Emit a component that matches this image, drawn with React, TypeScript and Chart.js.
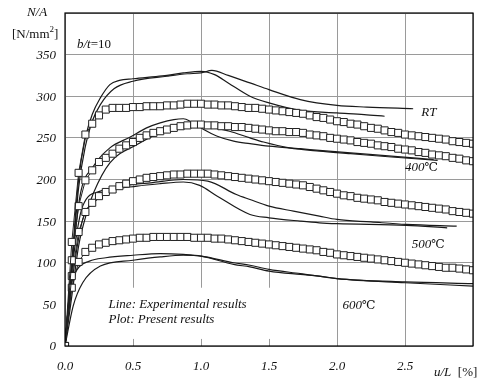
import React, { useEffect, useRef } from "react";
import { Chart, registerables } from "chart.js";

Chart.register(...registerables);

// ---------- data ----------
const xTicks = [0, 0.5, 1.0, 1.5, 2.0, 2.5, 3.0];
const yTicks = [0, 50, 100, 150, 200, 250, 300, 350];

const plotX = [
  0, 0.05, 0.1, 0.15, 0.2, 0.25, 0.3, 0.35, 0.4, 0.45,
  0.5, 0.55, 0.6, 0.65, 0.7, 0.75, 0.8, 0.85, 0.9, 0.95,
  1.0, 1.05, 1.1, 1.15, 1.2, 1.25, 1.3, 1.35, 1.4, 1.45,
  1.5, 1.55, 1.6, 1.65, 1.7, 1.75, 1.8, 1.85, 1.9, 1.95,
  2.0, 2.05, 2.1, 2.15, 2.2, 2.25, 2.3, 2.35, 2.4, 2.45,
  2.5, 2.55, 2.6, 2.65, 2.7, 2.75, 2.8, 2.85, 2.9, 2.95,
  3.0,
];
const plotRT = [
  0, 125, 208, 254, 267, 277, 284, 286, 286, 286,
  287, 287, 288, 288, 288, 289, 289, 290, 291, 291,
  291, 290, 290, 289, 289, 288, 287, 286, 286, 285,
  284, 283, 282, 281, 280, 279, 277, 275, 274, 272,
  270, 269, 267, 266, 264, 262, 261, 259, 257, 256,
  254, 253, 252, 251, 250, 249, 248, 246, 245, 244,
  243,
];
const plot400 = [
  0, 103, 168, 199, 211, 221, 226, 231, 237, 241,
  245, 250, 253, 256, 258, 260, 262, 264, 265, 266,
  266, 265, 265, 264, 264, 263, 263, 262, 261, 260,
  259, 258, 258, 257, 257, 256, 254, 253, 252, 250,
  249, 248, 247, 245, 244, 243, 241, 240, 239, 237,
  236, 235, 233, 232, 230, 229, 228, 226, 225, 223,
  222,
];
const plot500 = [
  0, 84, 137, 161, 172, 180, 185, 188, 192, 195,
  198, 200, 202, 203, 204, 205, 206, 206, 207, 207,
  207, 207, 206, 205, 204, 203, 202, 201, 200, 199,
  198, 197, 196, 195, 194, 193, 191, 189, 187, 185,
  183, 181, 180, 178, 177, 176, 175, 173, 172, 171,
  170, 169, 168, 167, 166, 165, 164, 162, 161, 160,
  159,
];
const plot600 = [
  0, 70, 101, 113, 118, 122, 124, 126, 127, 128,
  129, 130, 130, 131, 131, 131, 131, 131, 131, 130,
  130, 130, 129, 129, 128, 127, 126, 125, 124, 123,
  122, 121, 120, 119, 118, 117, 116, 115, 113, 112,
  110, 109, 108, 107, 106, 105, 104, 103, 102, 101,
  100, 99, 98, 97, 96, 95, 94, 94, 93, 92,
  91,
];

// experimental curves: [u/L, N/A]
const expRT1: [number, number][] = [
  [0, 0], [0.05, 100], [0.1, 200], [0.15, 250], [0.2, 278], [0.26, 298], [0.33, 314],
  [0.4, 319], [0.5, 321], [0.62, 323], [0.75, 325], [0.87, 328], [1.0, 330], [1.1, 326],
  [1.2, 316], [1.36, 300], [1.5, 292], [1.73, 283], [2.0, 280], [2.2, 278], [2.35, 276],
];
const expRT2: [number, number][] = [
  [0, 0], [0.05, 95], [0.1, 190], [0.15, 240], [0.2, 270], [0.26, 290], [0.36, 309],
  [0.5, 318], [0.75, 324], [0.9, 327], [1.0, 328], [1.08, 331], [1.2, 325], [1.36, 316],
  [1.5, 308], [1.73, 296], [2.0, 289], [2.22, 287], [2.56, 285],
];
const exp4001: [number, number][] = [
  [0, 0], [0.05, 95], [0.11, 180], [0.21, 216], [0.33, 238], [0.48, 251], [0.6, 262],
  [0.7, 268], [0.8, 272], [0.87, 273], [0.93, 269], [1.02, 260], [1.12, 252], [1.24, 246],
  [1.36, 243], [1.5, 240], [1.73, 237], [1.87, 235], [2.1, 232], [2.4, 228], [2.71, 224],
];
const exp4002: [number, number][] = [
  [0, 0], [0.05, 60], [0.1, 120], [0.16, 160], [0.21, 184], [0.33, 220], [0.53, 242],
  [0.7, 256], [0.85, 262], [1.0, 265], [1.1, 262], [1.21, 258], [1.36, 250], [1.46, 245],
  [1.65, 238], [1.87, 234], [2.1, 231], [2.4, 227], [2.74, 223],
];
const exp5001: [number, number][] = [
  [0, 0], [0.05, 90], [0.13, 168], [0.26, 186], [0.4, 191], [0.5, 194], [0.63, 196],
  [0.87, 200], [1.05, 198], [1.26, 182], [1.36, 176], [1.5, 168], [1.68, 162], [1.87, 156],
  [2.0, 152], [2.25, 149], [2.51, 146], [2.88, 144],
];
const exp5002: [number, number][] = [
  [0, 0], [0.05, 75], [0.13, 152], [0.21, 172], [0.33, 186], [0.53, 192], [0.7, 195],
  [0.87, 197], [0.99, 193], [1.12, 180], [1.36, 158], [1.5, 154], [1.73, 150], [1.87, 148],
  [2.0, 147], [2.51, 145], [2.81, 142],
];
const exp6001: [number, number][] = [
  [0, 0], [0.04, 70], [0.09, 92], [0.18, 102], [0.3, 106], [0.5, 109], [0.7, 111],
  [0.87, 110], [1.0, 108], [1.24, 98], [1.36, 95], [1.5, 90], [1.73, 86], [1.87, 84],
  [2.0, 81], [2.5, 76], [3.0, 72],
];
const exp6002: [number, number][] = [
  [0, 0], [0.06, 48], [0.13, 76], [0.26, 96], [0.5, 103], [0.7, 107], [0.87, 109],
  [1.0, 108], [1.24, 100], [1.36, 97], [1.5, 92], [1.73, 87], [2.0, 81], [2.5, 77],
  [3.0, 75],
];

const curveLabels = ["RT", "400", "500", "600"];

// ---------- chart ----------
const SERIF = "'Liberation Serif', 'DejaVu Serif', serif";
const INK = "#111";

function drawRich(
  ctx: CanvasRenderingContext2D,
  x: number,
  y: number,
  parts: { t: string; italic?: boolean; size?: number; dy?: number }[]
) {
  let cx = x;
  ctx.textBaseline = "middle";
  ctx.textAlign = "left";
  for (const p of parts) {
    ctx.font = `${p.italic ? "italic " : ""}${p.size ?? 13}px ${SERIF}`;
    ctx.fillText(p.t, cx, y + (p.dy ?? 0));
    cx += ctx.measureText(p.t).width;
  }
}

const decorPlugin = {
  id: "decor",
  beforeDatasetsDraw(chart: any) {
    const { ctx } = chart;
    const xs = chart.scales.x;
    const ys = chart.scales.y;
    // white box behind the legend note
    const l = xs.getPixelForValue(0.1);
    const r = xs.getPixelForValue(1.68);
    const t = ys.getPixelForValue(70);
    const b = ys.getPixelForValue(8.5);
    ctx.save();
    ctx.fillStyle = "#fff";
    ctx.fillRect(l, t, r - l, b - t);
    ctx.restore();
  },
  afterDraw(chart: any) {
    const { ctx, chartArea } = chart;
    const xs = chart.scales.x;
    const ys = chart.scales.y;
    ctx.save();
    // frame
    ctx.strokeStyle = "#000";
    ctx.lineWidth = 1.2;
    ctx.strokeRect(chartArea.left, chartArea.top, chartArea.right - chartArea.left, chartArea.bottom - chartArea.top);

    ctx.fillStyle = INK;
    // y tick labels
    ctx.font = `italic 13px ${SERIF}`;
    ctx.textAlign = "right";
    ctx.textBaseline = "middle";
    for (const v of yTicks) {
      ctx.fillText(String(v), chartArea.left - 9, ys.getPixelForValue(v) + 1);
    }
    // x tick labels
    ctx.textAlign = "center";
    for (const v of xTicks) {
      if (v >= 3) continue;
      ctx.fillText(v.toFixed(1), xs.getPixelForValue(v), chartArea.bottom + 21);
    }
    // axis titles
    ctx.textAlign = "center";
    ctx.font = `italic 13px ${SERIF}`;
    ctx.fillText("N/A", 37, 13);
    drawRich(ctx, 12, 35, [
      { t: "[N/mm" },
      { t: "2", size: 9, dy: -5 },
      { t: "]" },
    ]);
    drawRich(ctx, 434, 373, [{ t: "u/L", italic: true }, { t: "  [%]" }]);
    drawRich(ctx, 77, 45, [{ t: "b/t", italic: true }, { t: "=10" }]);

    // curve labels
    drawRich(ctx, xs.getPixelForValue(2.62), ys.getPixelForValue(280), [{ t: curveLabels[0], italic: true }]);
    drawRich(ctx, xs.getPixelForValue(2.5), ys.getPixelForValue(214), [
      { t: curveLabels[1], italic: true },
      { t: "℃", size: 12 },
    ]);
    drawRich(ctx, xs.getPixelForValue(2.55), ys.getPixelForValue(122), [
      { t: curveLabels[2], italic: true },
      { t: "℃", size: 12 },
    ]);
    drawRich(ctx, xs.getPixelForValue(2.04), ys.getPixelForValue(48), [
      { t: curveLabels[3], italic: true },
      { t: "℃", size: 12 },
    ]);

    // legend note
    drawRich(ctx, xs.getPixelForValue(0.32), ys.getPixelForValue(50), [
      { t: "Line: Experimental results", italic: true },
    ]);
    drawRich(ctx, xs.getPixelForValue(0.32), ys.getPixelForValue(32), [
      { t: "Plot: Present results", italic: true },
    ]);
    ctx.restore();
  },
};

function plotDataset(ys: number[]) {
  return {
    data: plotX.map((x, i) => ({ x, y: ys[i] })),
    borderColor: "#222",
    borderWidth: 1,
    pointStyle: "rect",
    pointRadius: 5,
    pointBorderWidth: 1,
    pointBorderColor: "#222",
    pointBackgroundColor: "#fff",
    tension: 0,
  };
}

function expDataset(pts: [number, number][]) {
  return {
    data: pts.map(([x, y]) => ({ x, y })),
    borderColor: "#1a1a1a",
    borderWidth: 1.2,
    pointRadius: 0,
    cubicInterpolationMode: "monotone",
  };
}

export default function App() {
  const ref = useRef<HTMLCanvasElement | null>(null);
  useEffect(() => {
    if (!ref.current) return;
    const chart = new Chart(ref.current, {
      type: "line",
      data: {
        datasets: [
          plotDataset(plotRT),
          plotDataset(plot400),
          plotDataset(plot500),
          plotDataset(plot600),
          expDataset(expRT1),
          expDataset(expRT2),
          expDataset(exp4001),
          expDataset(exp4002),
          expDataset(exp5001),
          expDataset(exp5002),
          expDataset(exp6001),
          expDataset(exp6002),
        ] as any,
      },
      options: {
        animation: false,
        responsive: false,
        maintainAspectRatio: false,
        layout: { padding: { left: 65, top: 13, right: 11, bottom: 37 } },
        plugins: { legend: { display: false }, tooltip: { enabled: false } },
        scales: {
          x: {
            type: "linear",
            min: 0,
            max: 3,
            afterBuildTicks: (s: any) => {
              s.ticks = xTicks.map((v) => ({ value: v }));
            },
            ticks: { display: false },
            grid: { color: "#9a9a9a", lineWidth: 1, drawTicks: false },
            border: { display: false },
          },
          y: {
            type: "linear",
            min: 0,
            max: 400,
            afterBuildTicks: (s: any) => {
              s.ticks = [...yTicks, 400].map((v) => ({ value: v }));
            },
            ticks: { display: false },
            grid: {
              color: (c: any) => (c.tick && c.tick.value === 50 ? "rgba(0,0,0,0)" : "#9a9a9a"),
              lineWidth: 1,
              drawTicks: false,
            },
            border: { display: false },
          },
        },
      },
      plugins: [decorPlugin],
    });
    return () => chart.destroy();
  }, []);
  return (
    <div style={{ position: "fixed", left: 0, top: 0, width: 484, height: 383, background: "#fff" }}>
      <canvas ref={ref} width={484} height={383} style={{ width: 484, height: 383 }} />
    </div>
  );
}
